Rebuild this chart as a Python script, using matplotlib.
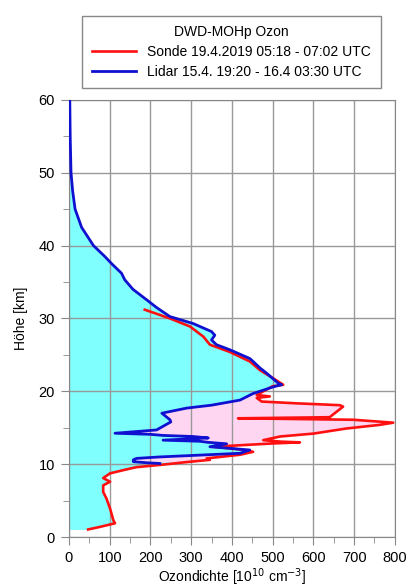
import numpy as np
import matplotlib.pyplot as plt

plt.rcParams['font.family'] = ['Liberation Sans', 'DejaVu Sans']

# Lidar profile (altitude km, ozone density 1e10 cm^-3)
lidar_alt = [60, 55, 50, 47.5, 45, 42.5, 40, 38.5, 37.5, 36.2, 35.3, 34, 32.5,
             31.5, 30.25, 29.3, 28.2, 27.7, 27.05, 26.4, 25.7, 24.5, 24.1, 23.2,
             22.5, 21.1, 20.9, 20.6, 19.7, 18.8, 18.1, 17.7, 17.0, 16.1, 15.8,
             14.7, 14.25, 14.1, 13.95, 13.8, 13.6, 13.3, 13.15, 13.0, 12.8,
             12.4, 11.95, 11.5, 11.0, 10.8, 10.6, 10.35, 10.2, 10.1]
lidar_o3 = [2, 3, 5, 9, 15, 31, 60, 88, 105, 129, 137, 157, 192,
            215, 248, 305, 350, 358, 350, 362, 395, 444, 452, 469,
            485, 514, 522, 501, 452, 420, 350, 289, 228, 248, 250,
            215, 113, 200, 231, 305, 342, 231, 321, 342, 387,
            346, 444, 420, 223, 166, 158, 158, 191, 223]

# Sonde profile
sonde_alt = [31.2, 30.0, 28.9, 27.5, 26.4, 25.4, 24.1, 22.9, 21.8, 20.9, 20.7,
             19.5, 19.3, 19.1, 18.6, 18.35, 18.1, 17.9, 17.2, 16.45, 16.3, 16.1,
             15.7, 15.4, 14.9, 14.2, 13.8, 13.3, 13.1, 13.0, 12.85, 12.4, 12.15,
             11.9, 11.7, 11.3, 10.8, 10.6, 10.3, 9.9, 9.6, 9.3, 8.75, 8.1, 7.6,
             7.1, 6.2, 5.3, 3.9, 2.3, 1.9, 1.4, 1.05]
sonde_o3 = [186, 248, 297, 330, 346, 395, 444, 469, 501, 526, 500,
            461, 493, 461, 473, 560, 665, 673, 657, 640, 415, 698,
            796, 763, 681, 600, 518, 477, 520, 567, 501, 354, 400,
            436, 452, 420, 338, 346, 290, 223, 166, 142, 101, 84, 101,
            84, 84, 92, 101, 109, 113, 76, 47]

lidar_alt = np.array(lidar_alt); lidar_o3 = np.array(lidar_o3)
sonde_alt = np.array(sonde_alt); sonde_o3 = np.array(sonde_o3)

fig = plt.figure(figsize=(4.13, 5.87), dpi=100)
ax = fig.add_axes([0.167, 0.085, 0.789, 0.745])

# pink area where sonde exceeds lidar
ms = (sonde_alt <= 21.0) & (sonde_alt >= 10.0)
ml = (lidar_alt <= 21.0)
px = np.concatenate([sonde_o3[ms], lidar_o3[ml][::-1]])
py = np.concatenate([sonde_alt[ms], lidar_alt[ml][::-1]])
ax.fill(px, py, color='#FFD6F2', lw=0, zorder=1)

# cyan area under the profile
cyan = '#80FFFF'
ax.fill_betweenx(lidar_alt, 0, lidar_o3, color=cyan, lw=0, zorder=2)
mb = sonde_alt <= 10.3
ax.fill_betweenx(sonde_alt[mb], 0, sonde_o3[mb], color=cyan, lw=0, zorder=2)

ax.plot(sonde_o3, sonde_alt, color='#FF1010', lw=1.9, zorder=4,
        label='Sonde 19.4.2019 05:18 - 07:02 UTC')
ax.plot(lidar_o3, lidar_alt, color='#1010D0', lw=2.0, zorder=5,
        label='Lidar 15.4. 19:20 - 16.4 03:30 UTC')

ax.set_xlim(0, 800)
ax.set_ylim(0, 60)
ax.set_xticks(np.arange(0, 801, 100))
ax.set_xticks(np.arange(0, 801, 50), minor=True)
ax.set_yticks(np.arange(0, 61, 10))
ax.set_yticks(np.arange(0, 61, 5), minor=True)
ax.grid(True, which='major', color='#999999', lw=1.0, zorder=3)
ax.set_axisbelow(False)
for sp in ax.spines.values():
    sp.set_color('#888888')
    sp.set_zorder(3)
ax.tick_params(which='both', direction='out', color='#888888', labelsize=10.5)
ax.tick_params(which='major', length=6, pad=4)
ax.tick_params(which='minor', length=4)

ax.set_xlabel('Ozondichte [10$^{10}$ cm$^{-3}$]', fontsize=10, labelpad=1)
ax.set_ylabel('Höhe [km]', fontsize=10, labelpad=8)

leg = fig.legend(loc='upper center', bbox_to_anchor=(0.56, 0.985),
                 title='DWD-MOHp Ozon', fontsize=10, title_fontsize=10,
                 handlelength=3.2, fancybox=False, framealpha=1,
                 edgecolor='#888888', borderpad=0.7, labelspacing=0.4)
leg.get_frame().set_linewidth(1.0)

fig.savefig('out.png', dpi=100)
plt.close(fig)
